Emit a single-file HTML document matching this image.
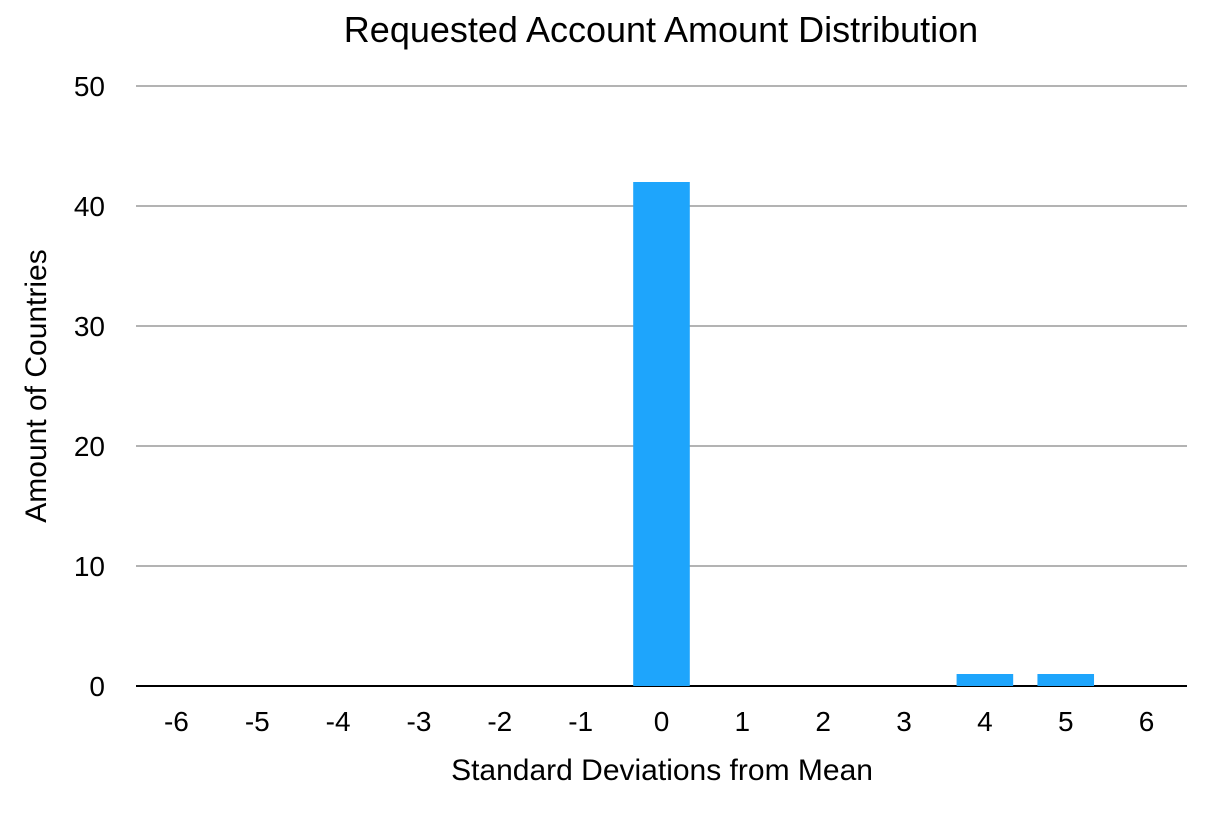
<!DOCTYPE html>
<html><head><meta charset="utf-8"><style>
body{margin:0;background:#fff;font-family:"Liberation Sans",Arial,sans-serif;}
svg text{font-family:"Liberation Sans",Arial,sans-serif;fill:#000;}
</style></head><body>
<svg id="chart" width="1212" height="808" xmlns="http://www.w3.org/2000/svg">
<text x="661" y="42" font-size="36" text-anchor="middle">Requested Account Amount Distribution</text>
<text transform="translate(46,386) rotate(-90)" font-size="30" text-anchor="middle">Amount of Countries</text>
<text x="662" y="780" font-size="30" text-anchor="middle">Standard Deviations from Mean</text>
<g id="grid"></g><g id="bars"></g><g id="xlabels"></g>
</svg>
<script>
const categories = ["-6","-5","-4","-3","-2","-1","0","1","2","3","4","5","6"];
const counts = [0,0,0,0,0,0,42,0,0,0,1,1,0];
const yTicks = [0,10,20,30,40,50];
const X0=136,X1=1187,Y0=686,Y1=86,YMAX=50;
const band=(X1-X0)/categories.length;
const xc=i=>X0+band*(i+0.5);
const y=v=>Y0-(v/YMAX)*(Y0-Y1);
const NS="http://www.w3.org/2000/svg";
const grid=document.getElementById('grid'),bars=document.getElementById('bars'),xl=document.getElementById('xlabels');
yTicks.forEach(t=>{
 const l=document.createElementNS(NS,'line');
 
 
 l.setAttribute('x1',X0);l.setAttribute('x2',X1);l.setAttribute('y1',y(t));l.setAttribute('y2',y(t));
 l.setAttribute('stroke',t===0?'#000':'#b3b3b3');l.setAttribute('stroke-width',2);
 grid.appendChild(l);
 const tx=document.createElementNS(NS,'text');
 
 
 tx.setAttribute('x',105);tx.setAttribute('y',y(t)+10);tx.setAttribute('font-size','28');tx.setAttribute('text-anchor','end');
 tx.textContent=t;grid.appendChild(tx);
});
const bw=band*0.7;
counts.forEach((v,i)=>{
 const r=document.createElementNS(NS,'rect');
 
 
 r.setAttribute('x',xc(i)-bw/2);r.setAttribute('width',bw);r.setAttribute('y',y(v));r.setAttribute('height',Y0-y(v));
 r.setAttribute('fill','#1ea5fc');bars.appendChild(r);
 const tx=document.createElementNS(NS,'text');
 
 
 tx.setAttribute('x',xc(i));tx.setAttribute('y',731);tx.setAttribute('font-size','28');tx.setAttribute('text-anchor','middle');
 tx.textContent=categories[i];xl.appendChild(tx);
});
grid.appendChild(grid.firstChild);
</script>
</body></html>
